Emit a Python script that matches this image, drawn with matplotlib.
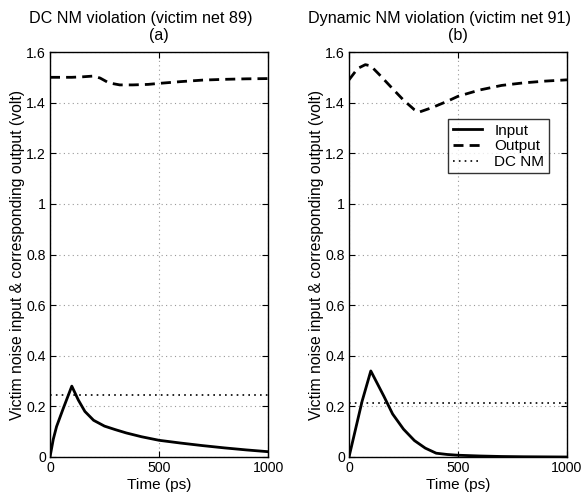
import matplotlib
matplotlib.use("Agg")
import matplotlib.pyplot as plt

plt.rcParams['font.family'] = ['Liberation Sans', 'DejaVu Sans']

# Panel (a): DC NM violation
t_in_a = [0, 15, 30, 60, 100, 130, 160, 200, 250, 300, 350, 420, 500, 600, 700, 800, 900, 1000]
v_in_a = [0, 0.07, 0.12, 0.19, 0.28, 0.225, 0.18, 0.145, 0.122, 0.108, 0.095, 0.08, 0.066, 0.055, 0.045, 0.036, 0.028, 0.021]
t_out_a = [0, 100, 150, 200, 230, 270, 320, 380, 450, 500, 600, 700, 800, 900, 1000]
v_out_a = [1.500, 1.500, 1.502, 1.505, 1.497, 1.478, 1.470, 1.470, 1.472, 1.476, 1.483, 1.489, 1.492, 1.494, 1.495]
dcnm_a = 0.245

# Panel (b): Dynamic NM violation
t_in_b = [0, 30, 60, 100, 130, 160, 200, 250, 300, 350, 400, 450, 500, 600, 700, 800, 1000]
v_in_b = [0, 0.11, 0.22, 0.34, 0.29, 0.24, 0.17, 0.11, 0.065, 0.035, 0.015, 0.01, 0.007, 0.004, 0.002, 0.001, 0.0]
t_out_b = [0, 40, 75, 100, 140, 200, 250, 300, 320, 380, 450, 500, 600, 700, 800, 900, 1000]
v_out_b = [1.49, 1.535, 1.55, 1.545, 1.51, 1.455, 1.41, 1.372, 1.362, 1.38, 1.405, 1.425, 1.45, 1.468, 1.478, 1.485, 1.49]
dcnm_b = 0.215

titles = ['DC NM violation (victim net 89)', 'Dynamic NM violation (victim net 91)']
subtitles = ['(a)', '(b)']
xticks = [0, 500, 1000]
yticks = [0, 0.2, 0.4, 0.6, 0.8, 1.0, 1.2, 1.4, 1.6]
yticklabels = ['0', '0.2', '0.4', '0.6', '0.8', '1', '1.2', '1.4', '1.6']

fig = plt.figure(figsize=(5.84, 4.93), dpi=100)
ax1 = fig.add_axes([50/584, 36/493, 218/584, 405/493])
ax2 = fig.add_axes([349/584, 36/493, 218/584, 405/493])

px = 0.72  # points per pixel at 100 dpi
data = [(ax1, t_in_a, v_in_a, t_out_a, v_out_a, dcnm_a), (ax2, t_in_b, v_in_b, t_out_b, v_out_b, dcnm_b)]
for i, (ax, ti, vi, to, vo, dc) in enumerate(data):
    ax.plot(ti, vi, color='black', lw=2.0, ls='-', label='Input')
    ax.plot(to, vo, color='black', lw=2.0, ls=(0, (3.6, 2.2)), label='Output')
    ax.plot([0, 1000], [dc, dc], color='black', lw=1.2, ls=(0, (1, 2.5)), label='DC NM')
    ax.set_xlim(0, 1000)
    ax.set_ylim(0, 1.6)
    ax.set_xticks(xticks)
    ax.set_yticks(yticks)
    ax.set_yticklabels(yticklabels)
    ax.grid(True, color='#999999', ls=(0, (1, 3)), lw=0.8)
    ax.tick_params(direction='in', top=True, right=True, labelsize=10.2, length=4, pad=3)
    for s in ax.spines.values():
        s.set_linewidth(1.0)
    ax.annotate(titles[i], xy=(0.5, 1.0), xycoords='axes fraction',
                xytext=(-18 * px, 29 * px), textcoords='offset points',
                ha='center', va='baseline', fontsize=11.6)
    ax.annotate(subtitles[i], xy=(0.5, 1.0), xycoords='axes fraction',
                xytext=(0, 12 * px), textcoords='offset points',
                ha='center', va='baseline', fontsize=11.6)
    ax.set_xlabel('Time (ps)', fontsize=11.1, labelpad=2)
    ax.set_ylabel('Victim noise input & corresponding output (volt)', fontsize=11.3, labelpad=1)

leg = ax2.legend(loc='upper right', bbox_to_anchor=(0.917, 0.834), fontsize=11, frameon=True,
                 fancybox=False, edgecolor='black', handlelength=1.9, borderpad=0.3,
                 labelspacing=0.1, handletextpad=0.8, borderaxespad=0)
leg.get_frame().set_linewidth(1.0)

fig.savefig('out.png', dpi=100)
